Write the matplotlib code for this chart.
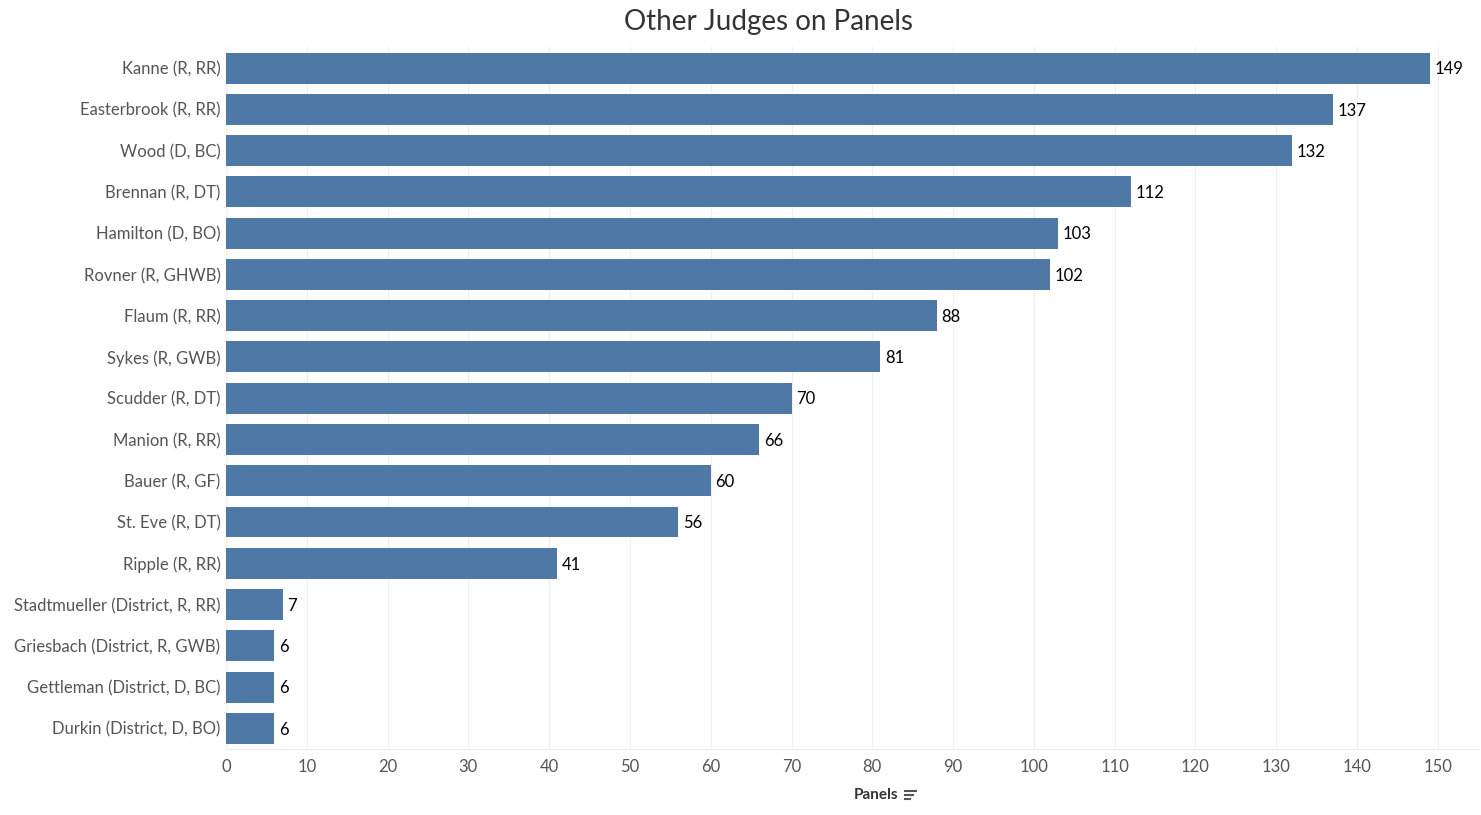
import numpy as np
import matplotlib.pyplot as plt
from matplotlib.lines import Line2D

judges = ['Kanne (R, RR)', 'Easterbrook (R, RR)', 'Wood (D, BC)', 'Brennan (R, DT)',
          'Hamilton (D, BO)', 'Rovner (R, GHWB)', 'Flaum (R, RR)', 'Sykes (R, GWB)',
          'Scudder (R, DT)', 'Manion (R, RR)', 'Bauer (R, GF)', 'St. Eve (R, DT)',
          'Ripple (R, RR)', 'Stadtmueller (District, R, RR)', 'Griesbach (District, R, GWB)',
          'Gettleman (District, D, BC)', 'Durkin (District, D, BO)']
panels = [149, 137, 132, 112, 103, 102, 88, 81, 70, 66, 60, 56, 41, 7, 6, 6, 6]
xticks = list(range(0, 151, 10))

plt.rcParams['font.family'] = ['Lato', 'DejaVu Sans']

fig = plt.figure(figsize=(14.81, 8.15), dpi=100)
ax = fig.add_axes([226 / 1481, 1 - 749 / 815, 1253 / 1481, (749 - 47.4) / 815])

y = np.arange(len(judges))
ax.barh(y, panels, height=0.75, color='#4e79a7', zorder=2)
for yi, v in zip(y, panels):
    ax.text(v + 0.55, yi + 0.03, str(v), va='center', ha='left', fontsize=12, color='#000000')

ax.set_ylim(len(judges) - 0.5, -0.5)
ax.set_xlim(0, 155.1)
ax.set_yticks(y)
ax.set_yticklabels(judges, fontsize=12, color='#555555')
ax.set_xticks(xticks)
ax.set_xticklabels([str(t) for t in xticks], fontsize=12, color='#555555')
ax.tick_params(axis='both', length=0)
ax.tick_params(axis='y', pad=4)
ax.tick_params(axis='x', pad=7)
ax.grid(axis='x', color='#f0f0f0', linewidth=1, zorder=0)
for s in ['top', 'right', 'left']:
    ax.spines[s].set_visible(False)
ax.spines['bottom'].set_color('#ebebeb')
ax.axvline(0, color='#d9d9d9', linewidth=1, zorder=1)

fig.text(876 / 1481, 1 - 795 / 815, 'Panels', ha='center', va='center',
         fontsize=11, fontweight='bold', color='#333333')
# sort icon
for i, w in enumerate([11, 8, 5]):
    yy = 1 - (791 + i * 4) / 815
    fig.add_artist(Line2D([905 / 1481, (905 + w) / 1481], [yy, yy],
                          color='#555555', linewidth=1.5))

fig.suptitle('Other Judges on Panels', x=768 / 1481, y=1 - 22 / 815, va='center',
             fontsize=20, color='#333333')

fig.savefig('out.png', dpi=100)
